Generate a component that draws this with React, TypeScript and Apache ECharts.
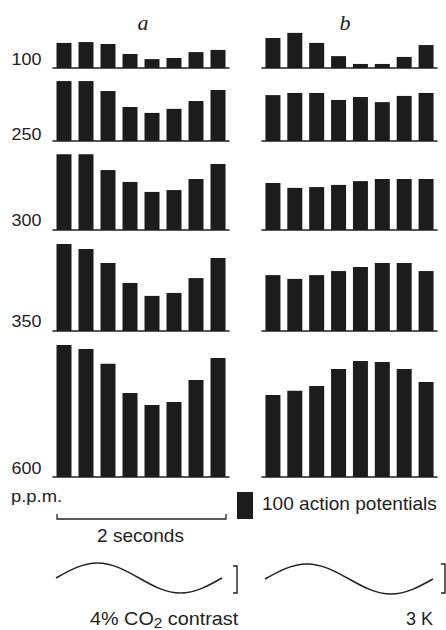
import React, { useEffect, useRef } from 'react';
import * as echarts from 'echarts';

// time bins across one stimulus cycle (2 seconds)
const bins = ['1', '2', '3', '4', '5', '6', '7', '8'];
// background CO2 concentrations (p.p.m.)
const concentrations = ['100', '250', '300', '350', '600'];
const columnTitles = ['a', 'b'];

// column a: responses to CO2 contrast (action potentials per bin)
const a100 = [93, 96, 89, 52, 33, 37, 59, 67];
const a250 = [222, 222, 185, 126, 104, 119, 148, 189];
const a300 = [281, 281, 222, 178, 141, 148, 189, 244];
const a350 = [322, 304, 252, 178, 130, 141, 196, 270];
const a600 = [489, 474, 419, 311, 267, 278, 359, 441];

// column b: responses to temperature modulation
const b100 = [111, 130, 93, 44, 15, 15, 41, 85];
const b250 = [170, 178, 178, 152, 163, 144, 167, 178];
const b300 = [174, 156, 159, 167, 181, 189, 189, 189];
const b350 = [207, 193, 207, 222, 237, 252, 252, 222];
const b600 = [304, 319, 337, 400, 430, 426, 400, 352];

const scaleBar = [100];

const seriesA = [a100, a250, a300, a350, a600];
const seriesB = [b100, b250, b300, b350, b600];

// layout
const PX_PER_AP = 0.27;
const baselines = [68, 141, 230, 331, 477];
const rowHeights = [40, 70, 86, 98, 140];
const labelY = [60, 134.5, 221, 322, 468.5];
const columns = [
  { left: 53, width: 176 },
  { left: 262, width: 175 },
];
const BAR_COLOR = '#1c1c1c';
const INK = '#222';
const SANS = 'Arial, "Liberation Sans", Helvetica, sans-serif';

function sineCurves(x0: number, period: number, midY: number, amp: number) {
  const sx = period / (2 * Math.PI);
  const k1 = 0.5122866 * sx;
  const k2 = 1.0023137 * sx;
  const kA = 0.5122866 * amp;
  const q = period / 4;
  const segs = [
    { x1: x0, y1: midY, cpx1: x0 + k1, cpy1: midY - kA, cpx2: x0 + k2, cpy2: midY - amp, x2: x0 + q, y2: midY - amp },
    { x1: x0 + q, y1: midY - amp, cpx1: x0 + 2 * q - k2, cpy1: midY - amp, cpx2: x0 + 2 * q - k1, cpy2: midY - kA, x2: x0 + 2 * q, y2: midY },
    { x1: x0 + 2 * q, y1: midY, cpx1: x0 + 2 * q + k1, cpy1: midY + kA, cpx2: x0 + 2 * q + k2, cpy2: midY + amp, x2: x0 + 3 * q, y2: midY + amp },
    { x1: x0 + 3 * q, y1: midY + amp, cpx1: x0 + 4 * q - k2, cpy1: midY + amp, cpx2: x0 + 4 * q - k1, cpy2: midY + kA, x2: x0 + 4 * q, y2: midY },
  ];
  return segs.map((shape) => ({
    type: 'bezierCurve',
    shape,
    style: { stroke: INK, lineWidth: 1.6, fill: 'none' },
    silent: true,
  }));
}

export default function App() {
  const ref = useRef<HTMLDivElement>(null);

  useEffect(() => {
    document.body.style.margin = '0';
    if (!ref.current) return;
    const chart = echarts.init(ref.current, null, { renderer: 'svg' });

    const grid: any[] = [];
    const xAxis: any[] = [];
    const yAxis: any[] = [];
    const series: any[] = [];

    columns.forEach((col, c) => {
      const data = c === 0 ? seriesA : seriesB;
      baselines.forEach((base, r) => {
        const h = rowHeights[r];
        const idx = grid.length;
        grid.push({ left: col.left, width: col.width, top: base - h, height: h });
        xAxis.push({
          type: 'category',
          gridIndex: idx,
          data: bins,
          boundaryGap: true,
          axisLine: { show: true, onZero: false, lineStyle: { color: INK, width: 1.6 } },
          axisTick: { show: false },
          axisLabel: { show: false },
          splitLine: { show: false },
        });
        yAxis.push({
          type: 'value',
          gridIndex: idx,
          min: 0,
          max: h / PX_PER_AP,
          show: false,
          splitLine: { show: false },
        });
        series.push({
          type: 'bar',
          xAxisIndex: idx,
          yAxisIndex: idx,
          data: data[r],
          barWidth: 15,
          itemStyle: { color: BAR_COLOR },
          silent: true,
        });
      });
    });

    // scale bar: 100 action potentials
    {
      const idx = grid.length;
      const h = 30;
      grid.push({ left: 237, width: 16, top: 519 - h, height: h });
      xAxis.push({ type: 'category', gridIndex: idx, data: ['scale'], show: false });
      yAxis.push({ type: 'value', gridIndex: idx, min: 0, max: h / PX_PER_AP, show: false, splitLine: { show: false } });
      series.push({
        type: 'bar',
        xAxisIndex: idx,
        yAxisIndex: idx,
        data: scaleBar,
        barWidth: 16,
        itemStyle: { color: BAR_COLOR },
        silent: true,
      });
    }

    const graphic: any[] = [];
    // column titles
    graphic.push({
      type: 'text', x: 143, y: 22.5,
      style: { text: columnTitles[0], font: 'italic 22px "Liberation Serif", "Times New Roman", serif', fill: INK, align: 'center', verticalAlign: 'middle' },
    });
    graphic.push({
      type: 'text', x: 345, y: 22.5,
      style: { text: columnTitles[1], font: 'italic 22px "Liberation Serif", "Times New Roman", serif', fill: INK, align: 'center', verticalAlign: 'middle' },
    });
    // row labels
    concentrations.forEach((lab, r) => {
      graphic.push({
        type: 'text', x: 11.5, y: labelY[r], scaleX: 1.12,
        style: { text: lab, font: `16px ${SANS}`, fill: INK, align: 'left', verticalAlign: 'middle' },
      });
    });
    graphic.push({
      type: 'text', x: 11, y: 496, scaleX: 1.15,
      style: { text: 'p.p.m.', font: `16px ${SANS}`, fill: INK, align: 'left', verticalAlign: 'middle' },
    });
    // 2 seconds bracket
    graphic.push({
      type: 'polyline',
      shape: { points: [[57, 514], [57, 519], [226, 519], [226, 514]] },
      style: { stroke: INK, lineWidth: 1.3, fill: 'none' },
    });
    graphic.push({
      type: 'text', x: 140.5, y: 535.5, scaleX: 1.06,
      style: { text: '2 seconds', font: `18px ${SANS}`, fill: INK, align: 'center', verticalAlign: 'middle' },
    });
    graphic.push({
      type: 'text', x: 262, y: 504, scaleX: 1.06,
      style: { text: '100 action potentials', font: `18px ${SANS}`, fill: INK, align: 'left', verticalAlign: 'middle' },
    });
    // stimulus traces
    graphic.push(...sineCurves(56, 166, 578, 15));
    graphic.push(...sineCurves(265, 168, 579, 15));
    graphic.push({
      type: 'polyline',
      shape: { points: [[233, 566], [237, 566], [237, 593], [233, 593]] },
      style: { stroke: INK, lineWidth: 1.4, fill: 'none' },
    });
    graphic.push({
      type: 'polyline',
      shape: { points: [[441, 564], [445, 564], [445, 593], [441, 593]] },
      style: { stroke: INK, lineWidth: 1.4, fill: 'none' },
    });
    graphic.push({
      type: 'text', x: 90, y: 619, scaleX: 1.1,
      style: {
        text: '{n|4% CO}{s|2}{n| contrast}',
        font: `18px ${SANS}`,
        fill: INK,
        align: 'left',
        verticalAlign: 'middle',
        rich: {
          n: { fontSize: 18, fontFamily: SANS, lineHeight: 22, fill: INK },
          s: { fontSize: 14, fontFamily: SANS, lineHeight: 14, verticalAlign: 'bottom', fill: INK },
        },
      },
    });
    graphic.push({
      type: 'text', x: 433, y: 619,
      style: { text: '3 K', font: `18px ${SANS}`, fill: INK, align: 'right', verticalAlign: 'middle' },
    });

    chart.setOption({
      animation: false,
      backgroundColor: '#fff',
      grid,
      xAxis,
      yAxis,
      series,
      graphic,
    });

    return () => chart.dispose();
  }, []);

  return <div ref={ref} style={{ width: 446, height: 630 }} />;
}
